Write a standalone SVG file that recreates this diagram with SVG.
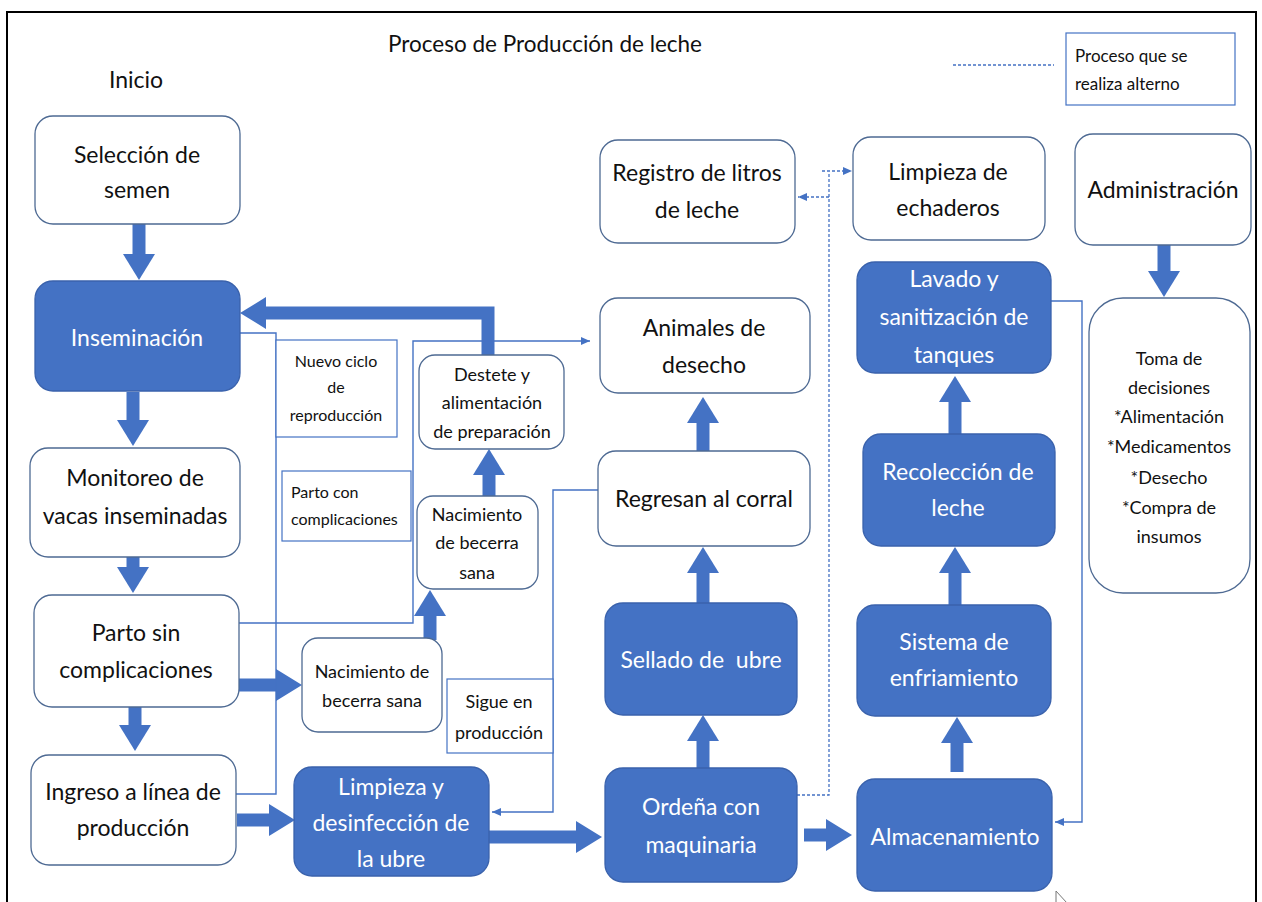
<svg xmlns="http://www.w3.org/2000/svg" width="1262" height="902" viewBox="0 0 1262 902">
<style>
text{font-family:Lato,"Liberation Sans",sans-serif;fill:#111;text-anchor:middle}
.big{font-size:23px}
.ttl{font-size:22.5px}
.mid{font-size:18px}
.sm{font-size:16px}
.lg{font-size:17px}
.w{fill:#fff}
.l{text-anchor:start}
.nb{fill:#fff;stroke:#4E6A93;stroke-width:1.3}
.bb{fill:#4472C4;stroke:#3A62AC;stroke-width:1.3}
.lab{fill:#fff;stroke:#4472C4;stroke-width:1.2}
.fat{fill:none;stroke:#4472C4;stroke-width:13;stroke-linejoin:miter}
.thin{fill:none;stroke:#4472C4;stroke-width:1.4}
.dash{fill:none;stroke:#4472C4;stroke-width:1.3;stroke-dasharray:3 2}
</style>
<defs>
<marker id="big" markerUnits="userSpaceOnUse" viewBox="0 0 26 32" markerWidth="26" markerHeight="32" refX="0" refY="16" orient="auto"><path d="M0,0 L26,16 L0,32 Z" fill="#4472C4"/></marker>
<marker id="sm" markerUnits="userSpaceOnUse" viewBox="0 0 9 8" markerWidth="9" markerHeight="8" refX="9" refY="4" orient="auto"><path d="M0,0 L9,4 L0,8 Z" fill="#4472C4"/></marker>
</defs>
<rect x="0" y="0" width="1262" height="902" fill="#fff"/>
<rect x="7" y="12" width="1249" height="905" fill="none" stroke="#000" stroke-width="2"/>

<text class="ttl" x="545" y="52">Proceso de Producción de leche</text>
<text class="big" x="136" y="88">Inicio</text>

<g id="legend">
<line class="dash" x1="953" y1="65" x2="1054" y2="65"/>
<rect class="lab" x="1066" y="33" width="169" height="72"/>
<text class="lg l" x="1075" y="62">Proceso que se</text>
<text class="lg l" x="1075" y="90">realiza alterno</text>
</g>

<g id="connectors">
<line class="fat" x1="139" y1="224" x2="139" y2="254" marker-end="url(#big)"/>
<line class="fat" x1="133" y1="392" x2="133" y2="420" marker-end="url(#big)"/>
<line class="fat" x1="133" y1="557" x2="133" y2="567" marker-end="url(#big)"/>
<line class="fat" x1="135" y1="707" x2="135" y2="725" marker-end="url(#big)"/>
<line class="fat" x1="237" y1="820" x2="269" y2="820" marker-end="url(#big)"/>
<line class="fat" x1="239" y1="685" x2="276" y2="685" marker-end="url(#big)"/>
<line class="fat" x1="489" y1="837" x2="576" y2="837" marker-end="url(#big)"/>
<line class="fat" x1="804" y1="835" x2="826" y2="835" marker-end="url(#big)"/>
<line class="fat" x1="703" y1="768" x2="703" y2="741" marker-end="url(#big)"/>
<line class="fat" x1="703" y1="603" x2="703" y2="573" marker-end="url(#big)"/>
<line class="fat" x1="703" y1="451" x2="703" y2="423" marker-end="url(#big)"/>
<line class="fat" x1="957" y1="772" x2="957" y2="743" marker-end="url(#big)"/>
<line class="fat" x1="955" y1="605" x2="955" y2="573" marker-end="url(#big)"/>
<line class="fat" x1="955" y1="434" x2="955" y2="402" marker-end="url(#big)"/>
<line class="fat" x1="1164" y1="245" x2="1164" y2="271" marker-end="url(#big)"/>
<line class="fat" x1="430" y1="640" x2="430" y2="616" marker-end="url(#big)"/>
<line class="fat" x1="489" y1="496" x2="489" y2="475" marker-end="url(#big)"/>
<polyline class="fat" points="488,355 488,313 266,313" marker-end="url(#big)"/>

<polyline class="thin" points="240,333 276,333 276,794 236,794"/>
<polyline class="thin" points="239,623 413,623 413,341 590,341" marker-end="url(#sm)"/>
<polyline class="thin" points="598,490 553,490 553,812 492,812" marker-end="url(#sm)"/>
<polyline class="thin" points="1051,301 1082,301 1082,822 1055,822" marker-end="url(#sm)"/>

<polyline class="dash" points="797,795 829,795 829,172"/>
<polyline class="dash" points="822,171 852,171" marker-end="url(#sm)"/>
<polyline class="dash" points="829,197 798,197" marker-end="url(#sm)"/>
</g>

<g id="n-seleccion"><rect class="nb" x="35" y="116" width="205" height="108" rx="18"/>
<text class="big" x="137" y="163">Selección de</text><text class="big" x="137" y="198">semen</text></g>

<g id="n-inseminacion"><rect class="bb" x="35" y="281" width="205" height="110" rx="18"/>
<text class="big w" x="137" y="346">Inseminación</text></g>

<g id="n-monitoreo"><rect class="nb" x="30" y="448" width="210" height="109" rx="18"/>
<text class="big" x="135" y="486">Monitoreo de</text><text class="big" x="135" y="524">vacas inseminadas</text></g>

<g id="n-parto"><rect class="nb" x="34" y="595" width="205" height="112" rx="18"/>
<text class="big" x="136" y="641">Parto sin</text><text class="big" x="136" y="678">complicaciones</text></g>

<g id="n-ingreso"><rect class="nb" x="31" y="755" width="205" height="110" rx="18"/>
<text class="big" x="133" y="800">Ingreso a línea de</text><text class="big" x="133" y="836">producción</text></g>

<g id="n-limpieza-ubre"><rect class="bb" x="294" y="767" width="195" height="109" rx="18"/>
<text class="big w" x="391" y="795">Limpieza y</text><text class="big w" x="391" y="831">desinfección de</text><text class="big w" x="391" y="867">la ubre</text></g>

<g id="n-nuevo-ciclo"><rect class="lab" x="276" y="340" width="121" height="97"/>
<text class="sm" x="336" y="367">Nuevo ciclo</text><text class="sm" x="336" y="393">de</text><text class="sm" x="336" y="421">reproducción</text></g>

<g id="n-parto-comp"><rect class="lab" x="282" y="471" width="129" height="70"/>
<text class="sm l" x="291" y="498">Parto con</text><text class="sm l" x="291" y="525">complicaciones</text></g>

<g id="n-sigue"><rect class="lab" x="447" y="679" width="106" height="74"/>
<text class="mid" x="499" y="708">Sigue en</text><text class="mid" x="499" y="739">producción</text></g>

<g id="n-destete"><rect class="nb" x="419" y="355" width="145" height="94" rx="16"/>
<text class="mid" x="492" y="381">Destete y</text><text class="mid" x="492" y="409">alimentación</text><text class="mid" x="492" y="438">de preparación</text></g>

<g id="n-nacimiento-1"><rect class="nb" x="417" y="496" width="121" height="93" rx="16"/>
<text class="mid" x="477" y="521">Nacimiento</text><text class="mid" x="477" y="549">de becerra</text><text class="mid" x="477" y="579">sana</text></g>

<g id="n-nacimiento-2"><rect class="nb" x="302" y="638" width="140" height="94" rx="16"/>
<text class="mid" x="372" y="678">Nacimiento de</text><text class="mid" x="372" y="707">becerra sana</text></g>

<g id="n-registro"><rect class="nb" x="600" y="140" width="195" height="103" rx="18"/>
<text class="big" x="697" y="181">Registro de litros</text><text class="big" x="697" y="218">de leche</text></g>

<g id="n-animales"><rect class="nb" x="600" y="298" width="210" height="95" rx="18"/>
<text class="big" x="704" y="336">Animales de</text><text class="big" x="704" y="373">desecho</text></g>

<g id="n-regresan"><rect class="nb" x="598" y="451" width="212" height="95" rx="18"/>
<text class="big" x="704" y="507">Regresan al corral</text></g>

<g id="n-sellado"><rect class="bb" x="605" y="603" width="192" height="112" rx="18"/>
<text class="big w" x="701" y="668" xml:space="preserve">Sellado de  ubre</text></g>

<g id="n-ordena"><rect class="bb" x="605" y="768" width="192" height="114" rx="18"/>
<text class="big w" x="701" y="815">Ordeña con</text><text class="big w" x="701" y="853">maquinaria</text></g>

<g id="n-echaderos"><rect class="nb" x="853" y="137" width="192" height="103" rx="18"/>
<text class="big" x="948" y="180">Limpieza de</text><text class="big" x="948" y="216">echaderos</text></g>

<g id="n-lavado"><rect class="bb" x="857" y="262" width="194" height="111" rx="18"/>
<text class="big w" x="954" y="287">Lavado y</text><text class="big w" x="954" y="325">sanitización de</text><text class="big w" x="954" y="363">tanques</text></g>

<g id="n-recoleccion"><rect class="bb" x="863" y="434" width="192" height="112" rx="18"/>
<text class="big w" x="958" y="480">Recolección de</text><text class="big w" x="958" y="516">leche</text></g>

<g id="n-sistema"><rect class="bb" x="857" y="605" width="194" height="111" rx="18"/>
<text class="big w" x="954" y="650">Sistema de</text><text class="big w" x="954" y="686">enfriamiento</text></g>

<g id="n-almacenamiento"><rect class="bb" x="857" y="779" width="195" height="112" rx="18"/>
<text class="big w" x="955" y="845">Almacenamiento</text></g>

<g id="n-administracion"><rect class="nb" x="1075" y="134" width="176" height="111" rx="18"/>
<text class="big" x="1163" y="198">Administración</text></g>

<g id="n-toma"><rect class="nb" x="1089" y="298" width="161" height="295" rx="34"/>
<text class="mid" x="1169" y="365">Toma de</text><text class="mid" x="1169" y="394">decisiones</text><text class="mid" x="1169" y="423">*Alimentación</text><text class="mid" x="1169" y="453">*Medicamentos</text><text class="mid" x="1169" y="484">*Desecho</text><text class="mid" x="1169" y="514">*Compra de</text><text class="mid" x="1169" y="543">insumos</text></g>

<polyline points="1056,906 1056,891 1067,903" fill="none" stroke="#777" stroke-width="1"/>
</svg>
